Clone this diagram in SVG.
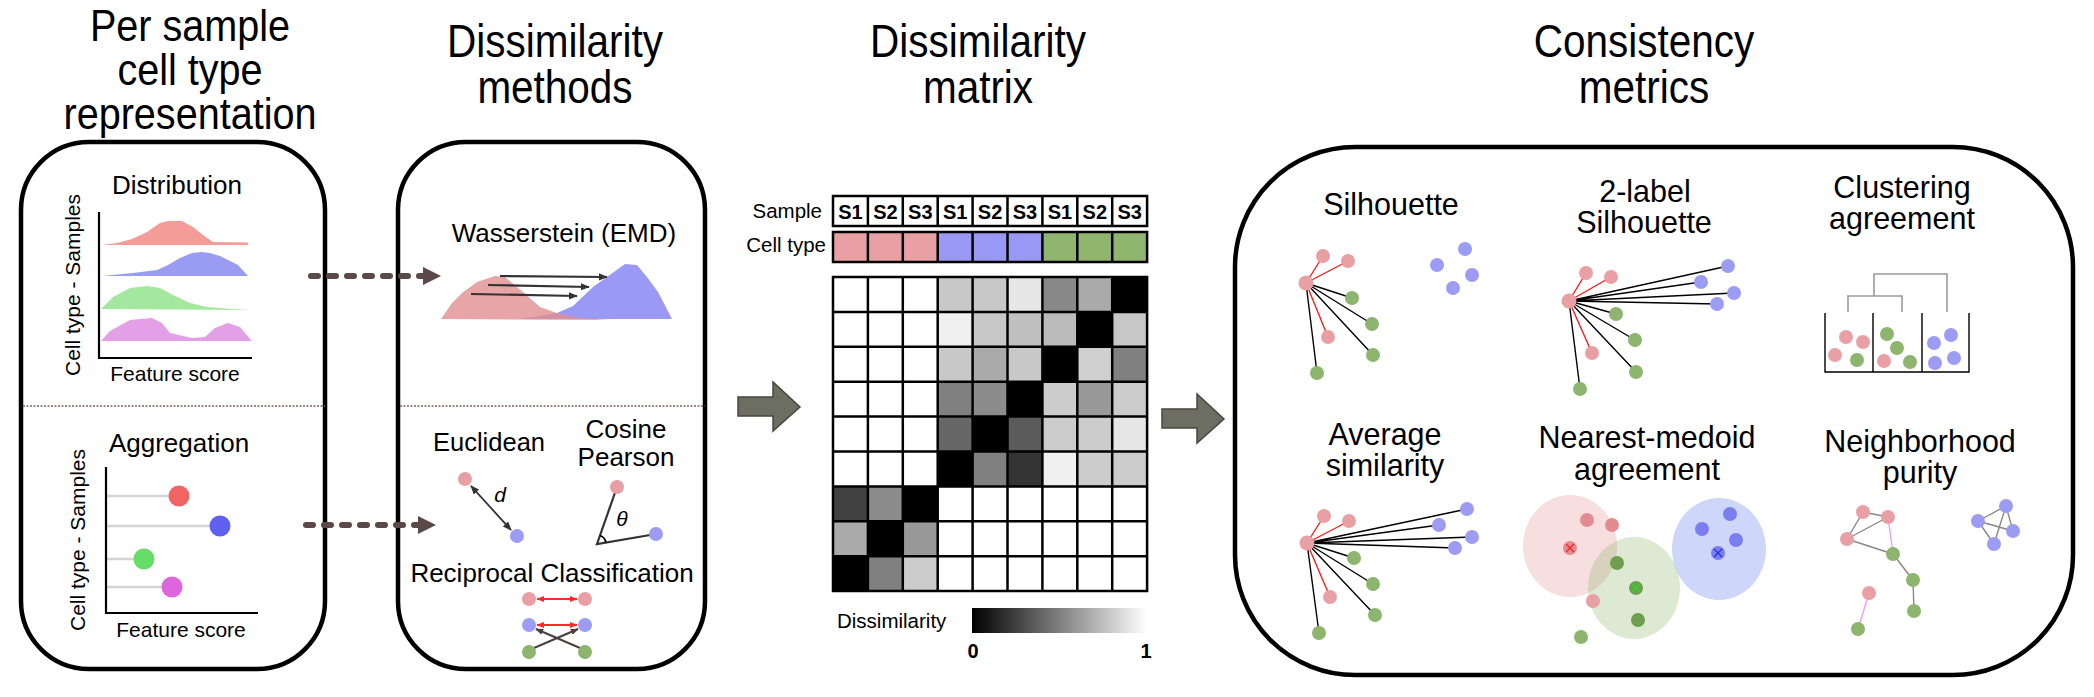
<svg xmlns="http://www.w3.org/2000/svg" width="2094" height="697" viewBox="0 0 2094 697">
<defs>
<style>
text{font-family:"Liberation Sans",Arial,sans-serif;fill:#000}
.title{font-size:46px;text-anchor:middle}
.lbl{font-size:26px;text-anchor:middle}
.mlbl{font-size:30.5px;text-anchor:middle}
.ax{font-size:21px;text-anchor:middle}
.box{fill:none;stroke:#000;stroke-width:4.5}
.div{stroke:#7a6262;stroke-width:1.5;stroke-dasharray:2 1.5}
.axis{stroke:#000;stroke-width:2.2;fill:none}
.stem{stroke:#d4d4d4;stroke-width:2.5}
.pk{fill:#e9a0a5}
.gn{fill:#8db56d}
.bl{fill:#9c9cf5}
.er{stroke:#ff1a1a;stroke-width:1.4}
.ek{stroke:#000;stroke-width:1.4}
.eg{stroke:#888;stroke-width:1.4}
.ep{stroke:#f59cf0;stroke-width:1.4}
.grid{stroke:#000;stroke-width:2.5;fill:none}
.hdr{font-size:20px;font-weight:bold;text-anchor:middle}
.dash{stroke:#5b4848;stroke-width:6;stroke-linecap:round;stroke-dasharray:7 11;fill:none}
.block{fill:#6b6e60;stroke:#4a4540;stroke-width:1.5}
.emd{stroke:#333;stroke-width:2.2}
.dend{stroke:#9a9a9a;stroke-width:1.6;fill:none}
.bin{stroke:#000;stroke-width:1.4;fill:none}
</style>
<marker id="mk" viewBox="0 0 10 10" refX="9" refY="5" markerWidth="9" markerHeight="9" markerUnits="userSpaceOnUse" orient="auto-start-reverse"><path d="M0,1L10,5L0,9z" fill="#333"/></marker>
<marker id="mr" viewBox="0 0 10 10" refX="9" refY="5" markerWidth="8" markerHeight="8" markerUnits="userSpaceOnUse" orient="auto-start-reverse"><path d="M0,1L10,5L0,9z" fill="#ff2a2a"/></marker>
<marker id="md" viewBox="0 0 10 10" refX="9" refY="5" markerWidth="8" markerHeight="8" markerUnits="userSpaceOnUse" orient="auto-start-reverse"><path d="M0,1L10,5L0,9z" fill="#4d3f3f"/></marker>
<marker id="mb" viewBox="0 0 18 18" refX="0" refY="9" markerWidth="18" markerHeight="18" markerUnits="userSpaceOnUse" orient="auto"><path d="M0,0L18,9L0,18z" fill="#5b4848"/></marker>
<linearGradient id="grad" x1="0" y1="0" x2="1" y2="0"><stop offset="0" stop-color="#000"/><stop offset="1" stop-color="#fff"/></linearGradient>
</defs>
<rect width="2094" height="697" fill="#fff"/>

<!-- Titles -->
<g id="titles">
<g transform="translate(190,0) scale(0.88,1)">
<text class="title" x="0" y="41" style="font-size:45px">Per sample</text>
<text class="title" x="0" y="85" style="font-size:45px">cell type</text>
<text class="title" x="0" y="129" style="font-size:45px">representation</text>
</g>
<g transform="translate(555,0) scale(0.88,1)">
<text class="title" x="0" y="57">Dissimilarity</text>
<text class="title" x="0" y="103">methods</text>
</g>
<g transform="translate(978,0) scale(0.88,1)">
<text class="title" x="0" y="57">Dissimilarity</text>
<text class="title" x="0" y="103">matrix</text>
</g>
<g transform="translate(1644,0) scale(0.88,1)">
<text class="title" x="0" y="57">Consistency</text>
<text class="title" x="0" y="103">metrics</text>
</g>
</g>

<!-- Box 1: representation -->
<g id="representation">
<rect class="box" x="21" y="142" width="304" height="527" rx="68"/>
<line class="div" x1="23" y1="406" x2="325" y2="406"/>
<text class="lbl" x="177" y="194">Distribution</text>
<path d="M102,245 L117,243 L132,239 L147,232 L160,223 L168,221 L182,221 L193,227 L203,235 L213,242 L248,242.5 L248,245 Z" fill="#f49c98"/>
<path d="M102,276 L133,273 L157,270 L168,265 L180,258 L192,253 L202,252 L210,253 L220,256 L230,261 L238,265 L248,276 Z" fill="#9a9cf4"/>
<path d="M101,309 L113,297 L130,288 L147,286 L160,288 L173,295 L190,303 L207,307 L233,309 L250,310 Z" fill="#a4e8a0"/>
<path d="M101,341 L110,331 L130,320 L152,318 L162,323 L170,333 L192,338 L205,337 L215,328 L228,323 L240,327 L252,341 Z" fill="#e4a0e6"/>
<path class="axis" d="M99,212 V358 H252"/>
<text class="ax" x="175" y="381">Feature score</text>
<text class="ax" transform="translate(80,285) rotate(-90)">Cell type - Samples</text>

<text class="lbl" x="179" y="452">Aggregation</text>
<line class="stem" x1="106" y1="496" x2="179" y2="496"/>
<line class="stem" x1="106" y1="526" x2="220" y2="526"/>
<line class="stem" x1="106" y1="559" x2="144" y2="559"/>
<line class="stem" x1="106" y1="587" x2="172" y2="587"/>
<circle cx="179" cy="496" r="10.5" fill="#f26363"/>
<circle cx="220" cy="526" r="10.5" fill="#5f5ff0"/>
<circle cx="144" cy="559" r="10.5" fill="#66dd66"/>
<circle cx="172" cy="587" r="10.5" fill="#dd66dd"/>
<path class="axis" d="M106,467 V613 H258"/>
<text class="ax" x="181" y="637">Feature score</text>
<text class="ax" transform="translate(85,540) rotate(-90)">Cell type - Samples</text>
</g>

<!-- Box 2: methods -->
<g id="methods">
<rect class="box" x="398" y="142" width="307" height="527" rx="68"/>
<line class="div" x1="400" y1="406" x2="705" y2="406"/>
<text class="lbl" x="564" y="242">Wasserstein (EMD)</text>
<path d="M520,319 L557,313 L573,306 L593,287 L625,264 L637,265 L647,277 L658,292 L672,319 Z" fill="#9a9af5"/>
<path d="M441,319 L452,303 L462,293 L477,282 L495,276 L505,277 L523,292 L540,307 L557,313 L580,318 L610,320 Z" fill="#e28f92" fill-opacity="0.8"/>
<line class="emd" x1="500" y1="276" x2="607" y2="277" marker-end="url(#mk)"/>
<line class="emd" x1="488" y1="285" x2="589" y2="287" marker-end="url(#mk)"/>
<line class="emd" x1="471" y1="294" x2="577" y2="296" marker-end="url(#mk)"/>

<text class="lbl" x="489" y="451" style="font-size:25.5px">Euclidean</text>
<text class="lbl" x="626" y="438">Cosine</text>
<text class="lbl" x="626" y="466">Pearson</text>
<line class="emd" x1="471" y1="486" x2="511" y2="530" marker-start="url(#mk)" marker-end="url(#mk)" style="stroke-width:1.8"/>
<circle class="pk" cx="465" cy="479" r="7"/>
<circle class="bl" cx="517" cy="536" r="7"/>
<text x="500" y="502" style="font-size:21px;font-style:italic;text-anchor:middle">d</text>
<path d="M617,487 L597,544 L656,534" fill="none" stroke="#333" stroke-width="2.2"/>
<path d="M605.9,542.5 A9,9 0 0 0 600,535.5" fill="none" stroke="#000" stroke-width="1.8"/>
<circle class="pk" cx="617" cy="487" r="7"/>
<circle class="bl" cx="656" cy="534" r="7"/>
<text x="622" y="526" style="font-size:21px;font-style:italic;text-anchor:middle">θ</text>

<text class="lbl" x="552" y="582">Reciprocal Classification</text>
<line x1="537" y1="599" x2="577" y2="599" stroke="#ff2a2a" stroke-width="2" marker-start="url(#mr)" marker-end="url(#mr)"/>
<line x1="537" y1="625" x2="577" y2="625" stroke="#ff2a2a" stroke-width="2" marker-start="url(#mr)" marker-end="url(#mr)"/>
<line x1="534" y1="648" x2="578" y2="629" stroke="#4d3f3f" stroke-width="2" marker-end="url(#md)"/>
<line x1="580" y1="648" x2="536" y2="629" stroke="#4d3f3f" stroke-width="2" marker-end="url(#md)"/>
<circle class="pk" cx="529" cy="599" r="7"/><circle class="pk" cx="585" cy="599" r="7"/>
<circle class="bl" cx="529" cy="625" r="7"/><circle class="bl" cx="585" cy="625" r="7"/>
<circle class="gn" cx="529" cy="652" r="7"/><circle class="gn" cx="585" cy="652" r="7"/>
</g>

<!-- Matrix -->
<g id="matrix">
<text x="822" y="218" style="font-size:20.5px;text-anchor:end">Sample</text>
<text x="826" y="252" style="font-size:20.5px;text-anchor:end">Cell type</text>
<rect x="833" y="196" width="314" height="30" fill="#fff"/>
<rect x="833" y="232" width="104.7" height="30" fill="#e8a0a4"/>
<rect x="937.7" y="232" width="104.7" height="30" fill="#9999f5"/>
<rect x="1042.4" y="232" width="104.7" height="30" fill="#8fb56f"/>
<path class="grid" d="M833,196H1147.1V226H833Z M867.9,196V226 M902.8,196V226 M937.7,196V226 M972.6,196V226 M1007.5,196V226 M1042.4,196V226 M1077.3,196V226 M1112.2,196V226"/>
<path class="grid" d="M833,232H1147.1V262H833Z M867.9,232V262 M902.8,232V262 M937.7,232V262 M972.6,232V262 M1007.5,232V262 M1042.4,232V262 M1077.3,232V262 M1112.2,232V262"/>
<text class="hdr" x="850.5" y="219">S1</text><text class="hdr" x="885.4" y="219">S2</text><text class="hdr" x="920.3" y="219">S3</text>
<text class="hdr" x="955.2" y="219">S1</text><text class="hdr" x="990.1" y="219">S2</text><text class="hdr" x="1025" y="219">S3</text>
<text class="hdr" x="1059.9" y="219">S1</text><text class="hdr" x="1094.8" y="219">S2</text><text class="hdr" x="1129.7" y="219">S3</text>

<rect x="833" y="277" width="314.1" height="314.1" fill="#fff"/>
<g>
<rect x="937.7" y="277" width="34.9" height="34.9" fill="#c8c8c8"/>
<rect x="972.6" y="277" width="34.9" height="34.9" fill="#c8c8c8"/>
<rect x="1007.5" y="277" width="34.9" height="34.9" fill="#e6e6e6"/>
<rect x="1042.4" y="277" width="34.9" height="34.9" fill="#888888"/>
<rect x="1077.3" y="277" width="34.9" height="34.9" fill="#aaaaaa"/>
<rect x="1112.2" y="277" width="34.9" height="34.9" fill="#000"/>

<rect x="937.7" y="311.9" width="34.9" height="34.9" fill="#f0f0f0"/>
<rect x="972.6" y="311.9" width="34.9" height="34.9" fill="#c8c8c8"/>
<rect x="1007.5" y="311.9" width="34.9" height="34.9" fill="#c0c0c0"/>
<rect x="1042.4" y="311.9" width="34.9" height="34.9" fill="#bbbbbb"/>
<rect x="1077.3" y="311.9" width="34.9" height="34.9" fill="#000"/>
<rect x="1112.2" y="311.9" width="34.9" height="34.9" fill="#c8c8c8"/>

<rect x="937.7" y="346.8" width="34.9" height="34.9" fill="#c8c8c8"/>
<rect x="972.6" y="346.8" width="34.9" height="34.9" fill="#aaaaaa"/>
<rect x="1007.5" y="346.8" width="34.9" height="34.9" fill="#c8c8c8"/>
<rect x="1042.4" y="346.8" width="34.9" height="34.9" fill="#000"/>
<rect x="1077.3" y="346.8" width="34.9" height="34.9" fill="#d0d0d0"/>
<rect x="1112.2" y="346.8" width="34.9" height="34.9" fill="#808080"/>

<rect x="937.7" y="381.7" width="34.9" height="34.9" fill="#808080"/>
<rect x="972.6" y="381.7" width="34.9" height="34.9" fill="#8c8c8c"/>
<rect x="1007.5" y="381.7" width="34.9" height="34.9" fill="#000"/>
<rect x="1042.4" y="381.7" width="34.9" height="34.9" fill="#cccccc"/>
<rect x="1077.3" y="381.7" width="34.9" height="34.9" fill="#999999"/>
<rect x="1112.2" y="381.7" width="34.9" height="34.9" fill="#cccccc"/>

<rect x="937.7" y="416.6" width="34.9" height="34.9" fill="#666666"/>
<rect x="972.6" y="416.6" width="34.9" height="34.9" fill="#000"/>
<rect x="1007.5" y="416.6" width="34.9" height="34.9" fill="#5a5a5a"/>
<rect x="1042.4" y="416.6" width="34.9" height="34.9" fill="#cccccc"/>
<rect x="1077.3" y="416.6" width="34.9" height="34.9" fill="#cccccc"/>
<rect x="1112.2" y="416.6" width="34.9" height="34.9" fill="#e6e6e6"/>

<rect x="937.7" y="451.5" width="34.9" height="34.9" fill="#000"/>
<rect x="972.6" y="451.5" width="34.9" height="34.9" fill="#808080"/>
<rect x="1007.5" y="451.5" width="34.9" height="34.9" fill="#333333"/>
<rect x="1042.4" y="451.5" width="34.9" height="34.9" fill="#f0f0f0"/>
<rect x="1077.3" y="451.5" width="34.9" height="34.9" fill="#cccccc"/>
<rect x="1112.2" y="451.5" width="34.9" height="34.9" fill="#cccccc"/>

<rect x="833" y="486.4" width="34.9" height="34.9" fill="#404040"/>
<rect x="867.9" y="486.4" width="34.9" height="34.9" fill="#8c8c8c"/>
<rect x="902.8" y="486.4" width="34.9" height="34.9" fill="#000"/>
<rect x="833" y="521.3" width="34.9" height="34.9" fill="#aaaaaa"/>
<rect x="867.9" y="521.3" width="34.9" height="34.9" fill="#000"/>
<rect x="902.8" y="521.3" width="34.9" height="34.9" fill="#999999"/>
<rect x="833" y="556.2" width="34.9" height="34.9" fill="#000"/>
<rect x="867.9" y="556.2" width="34.9" height="34.9" fill="#808080"/>
<rect x="902.8" y="556.2" width="34.9" height="34.9" fill="#cccccc"/>
</g>
<path class="grid" d="M833,277H1147.1V591.1H833Z M867.9,277V591.1 M902.8,277V591.1 M937.7,277V591.1 M972.6,277V591.1 M1007.5,277V591.1 M1042.4,277V591.1 M1077.3,277V591.1 M1112.2,277V591.1 M833,311.9H1147.1 M833,346.8H1147.1 M833,381.7H1147.1 M833,416.6H1147.1 M833,451.5H1147.1 M833,486.4H1147.1 M833,521.3H1147.1 M833,556.2H1147.1"/>
<text x="837" y="628" style="font-size:20.5px">Dissimilarity</text>
<rect x="972" y="608" width="175" height="25" fill="url(#grad)"/>
<text x="973" y="658" style="font-size:20px;font-weight:bold;text-anchor:middle">0</text>
<text x="1146" y="658" style="font-size:20px;font-weight:bold;text-anchor:middle">1</text>
</g>

<!-- Box 3: metrics -->
<g id="metrics">
<rect class="box" x="1235" y="147" width="838" height="528" rx="120"/>

<g id="silhouette">
<text class="mlbl" x="1391" y="215">Silhouette</text>
<path class="er" d="M1306,283L1323,256 M1306,283L1348,261 M1306,283L1328,337"/>
<path class="ek" d="M1306,283L1352,298 M1306,283L1372,324 M1306,283L1373,355 M1306,283L1317,373"/>
<circle class="pk" cx="1306" cy="283" r="7.5"/>
<circle class="pk" cx="1323" cy="256" r="7"/><circle class="pk" cx="1348" cy="261" r="7"/><circle class="pk" cx="1328" cy="337" r="7"/>
<circle class="gn" cx="1352" cy="298" r="7"/><circle class="gn" cx="1372" cy="324" r="7"/><circle class="gn" cx="1373" cy="355" r="7"/><circle class="gn" cx="1317" cy="373" r="7"/>
<circle class="bl" cx="1465" cy="249" r="7"/><circle class="bl" cx="1437" cy="265" r="7"/><circle class="bl" cx="1472" cy="275" r="7"/><circle class="bl" cx="1453" cy="288" r="7"/>
</g>

<g id="two-label">
<text class="mlbl" x="1645" y="202">2-label</text>
<text class="mlbl" x="1644" y="233">Silhouette</text>
<path class="er" d="M1569,301L1586,273 M1569,301L1611,277 M1569,301L1592,353"/>
<path class="ek" d="M1569,301L1616,314 M1569,301L1635,340 M1569,301L1636,372 M1569,301L1580,389 M1569,301L1728,266 M1569,301L1701,282 M1569,301L1734,293 M1569,301L1717,304"/>
<circle class="pk" cx="1569" cy="301" r="7.5"/>
<circle class="pk" cx="1586" cy="273" r="7"/><circle class="pk" cx="1611" cy="277" r="7"/><circle class="pk" cx="1592" cy="353" r="7"/>
<circle class="gn" cx="1616" cy="314" r="7"/><circle class="gn" cx="1635" cy="340" r="7"/><circle class="gn" cx="1636" cy="372" r="7"/><circle class="gn" cx="1580" cy="389" r="7"/>
<circle class="bl" cx="1728" cy="266" r="7"/><circle class="bl" cx="1701" cy="282" r="7"/><circle class="bl" cx="1734" cy="293" r="7"/><circle class="bl" cx="1717" cy="304" r="7"/>
</g>

<g id="clustering">
<text class="mlbl" x="1902" y="198">Clustering</text>
<text class="mlbl" x="1902" y="229">agreement</text>
<path class="dend" d="M1874,296V274H1947V312 M1848,312V296H1902V312"/>
<path class="bin" d="M1825,313V372H1969V313 M1873,313V372 M1922,313V372"/>
<circle class="pk" cx="1846" cy="337" r="7"/><circle class="pk" cx="1863" cy="342" r="7"/><circle class="pk" cx="1835" cy="355" r="7"/><circle class="gn" cx="1857" cy="360" r="7"/>
<circle class="gn" cx="1887" cy="334" r="7"/><circle class="gn" cx="1897" cy="348" r="7"/><circle class="pk" cx="1884" cy="361" r="7"/><circle class="gn" cx="1910" cy="362" r="7"/>
<circle class="bl" cx="1934" cy="343" r="7"/><circle class="bl" cx="1951" cy="335" r="7"/><circle class="bl" cx="1935" cy="363" r="7"/><circle class="bl" cx="1954" cy="358" r="7"/>
</g>

<g id="average">
<text class="mlbl" x="1385" y="445">Average</text>
<text class="mlbl" x="1385" y="476">similarity</text>
<path class="er" d="M1307,543L1324,516 M1307,543L1349,521 M1307,543L1330,597"/>
<path class="ek" d="M1307,543L1354,558 M1307,543L1373,584 M1307,543L1375,615 M1307,543L1319,633 M1307,543L1467,509 M1307,543L1439,525 M1307,543L1472,537 M1307,543L1455,548"/>
<circle class="pk" cx="1307" cy="543" r="7.5"/>
<circle class="pk" cx="1324" cy="516" r="7"/><circle class="pk" cx="1349" cy="521" r="7"/><circle class="pk" cx="1330" cy="597" r="7"/>
<circle class="gn" cx="1354" cy="558" r="7"/><circle class="gn" cx="1373" cy="584" r="7"/><circle class="gn" cx="1375" cy="615" r="7"/><circle class="gn" cx="1319" cy="633" r="7"/>
<circle class="bl" cx="1467" cy="509" r="7"/><circle class="bl" cx="1439" cy="525" r="7"/><circle class="bl" cx="1472" cy="537" r="7"/><circle class="bl" cx="1455" cy="548" r="7"/>
</g>

<g id="medoid">
<text class="mlbl" x="1647" y="448">Nearest-medoid</text>
<text class="mlbl" x="1647" y="480">agreement</text>
<ellipse cx="1570" cy="546" rx="47" ry="51" fill="#e8a0a4" fill-opacity="0.35"/>
<ellipse cx="1634" cy="588" rx="46" ry="51" fill="#8db56d" fill-opacity="0.3"/>
<ellipse cx="1719" cy="549" rx="47" ry="51" fill="#7f95f0" fill-opacity="0.38"/>
<circle cx="1587" cy="520" r="7" fill="#e28c92"/><circle cx="1612" cy="525" r="7" fill="#e28c92"/><circle cx="1570" cy="548" r="7" fill="#e28c92"/><circle class="pk" cx="1593" cy="601" r="7"/>
<circle cx="1617" cy="563" r="7" fill="#6f9e4e"/><circle cx="1636" cy="588" r="7" fill="#6f9e4e"/><circle cx="1638" cy="620" r="7" fill="#6f9e4e"/><circle class="gn" cx="1581" cy="637" r="7"/>
<circle cx="1730" cy="514" r="7" fill="#7b7ef0"/><circle cx="1702" cy="529" r="7" fill="#7b7ef0"/><circle cx="1736" cy="540" r="7" fill="#7b7ef0"/><circle cx="1718" cy="553" r="7" fill="#7b7ef0"/>
<path d="M1566,544L1574,552M1574,544L1566,552" stroke="#ff2020" stroke-width="1.2"/>
<path d="M1632,584L1640,592M1640,584L1632,592" stroke="#22dd22" stroke-width="1.2"/>
<path d="M1714,549L1722,557M1722,549L1714,557" stroke="#2030e0" stroke-width="1.2"/>
</g>

<g id="neighborhood">
<text class="mlbl" x="1920" y="452">Neighborhood</text>
<text class="mlbl" x="1920" y="483">purity</text>
<path class="eg" d="M1863,512L1888,517 M1863,512L1847,539 M1847,539L1888,517 M1847,539L1893,554 M1893,554L1913,580 M1913,580L1914,611"/>
<path class="ep" d="M1888,517L1893,554 M1869,593L1858,629"/>
<path class="eg" d="M1978,521L2006,506 M1978,521L2013,531 M1978,521L1994,544 M2006,506L2013,531 M2006,506L1994,544"/>
<circle class="pk" cx="1863" cy="512" r="7"/><circle class="pk" cx="1888" cy="517" r="7"/><circle class="pk" cx="1847" cy="539" r="7"/><circle class="pk" cx="1869" cy="593" r="7"/>
<circle class="gn" cx="1893" cy="554" r="7"/><circle class="gn" cx="1913" cy="580" r="7"/><circle class="gn" cx="1914" cy="611" r="7"/><circle class="gn" cx="1858" cy="629" r="7"/>
<circle class="bl" cx="2006" cy="506" r="7"/><circle class="bl" cx="1978" cy="521" r="7"/><circle class="bl" cx="2013" cy="531" r="7"/><circle class="bl" cx="1994" cy="544" r="7"/>
</g>
</g>

<!-- Connectors -->
<g id="connectors">
<line class="dash" x1="311" y1="276" x2="423" y2="276" marker-end="url(#mb)"/>
<line class="dash" x1="306" y1="525" x2="418" y2="525" marker-end="url(#mb)"/>
<path class="block" d="M738,397 H773 V382 L800,407 L773,431 V416 H738 Z"/>
<path class="block" d="M1162,409 H1197 V394 L1224,419 L1197,443 V428 H1162 Z"/>
</g>
</svg>
